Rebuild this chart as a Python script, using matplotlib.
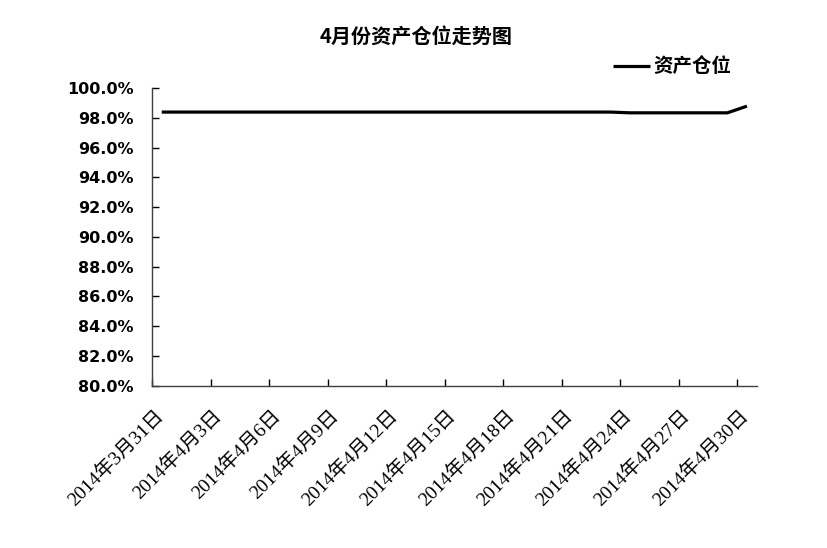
import matplotlib.pyplot as plt
from matplotlib.ticker import FuncFormatter

# calendar days 2014-03-31 .. 2014-04-30
dates = ['2014年3月31日'] + ['2014年4月%d日' % d for d in range(1, 31)]
position = [98.40, 98.40, 98.40, 98.40, 98.40, 98.40, 98.40, 98.40,
            98.40, 98.40, 98.40, 98.40, 98.40, 98.40, 98.40, 98.40,
            98.40, 98.40, 98.40, 98.40, 98.40, 98.40, 98.40, 98.40,
            98.35, 98.35, 98.35, 98.35, 98.35, 98.35, 98.80]
series_name = '资产仓位'
title = '4月份资产仓位走势图'

cjk = ['Noto Sans CJK SC', 'DejaVu Sans']
serif = ['Liberation Serif', 'Noto Sans CJK SC']


def main():
    fig = plt.figure(figsize=(8.27, 5.48), dpi=100)
    ax = fig.add_axes([152 / 827, 1 - 385.5 / 548, 604.7 / 827, 297.2 / 548])

    idx = list(range(len(dates)))
    ax.plot(idx, position, color='black', lw=2.3, label=series_name,
            solid_capstyle='butt')

    ax.set_xlim(-0.5, len(dates) - 0.5)
    ax.set_ylim(80, 100)
    ax.set_yticks(range(80, 101, 2))
    ax.yaxis.set_major_formatter(FuncFormatter(lambda v, p: '%.1f%%' % v))
    for lab in ax.get_yticklabels():
        lab.set_family(['DejaVu Sans'])
        lab.set_fontweight('bold')
        lab.set_fontsize(11.5)

    # tick marks on category boundaries, labels near category centres
    ax.set_xticks([i - 0.5 for i in range(0, len(dates), 3)])
    ax.set_xticklabels([])
    ax.set_xticks([i - 0.4 for i in idx[::3]], minor=True)
    ax.set_xticklabels(dates[::3], minor=True, rotation=45, ha='right',
                       va='top', rotation_mode='anchor',
                       family=serif, fontsize=14)
    ax.tick_params(axis='x', which='minor', length=0, pad=15)
    ax.tick_params(axis='both', which='major', direction='in', length=5,
                   width=1, color='black')
    ax.tick_params(axis='y', pad=13)

    for s in ['top', 'right']:
        ax.spines[s].set_visible(False)
    for s in ['left', 'bottom']:
        ax.spines[s].set_color('#404040')
        ax.spines[s].set_linewidth(1)

    fig.text(416 / 827, 1 - 36 / 548, title, ha='center', va='center',
             family=cjk, fontsize=14.5, fontweight='bold')

    ax.legend(loc='center left', bbox_to_anchor=(613 / 827, 1 - 67 / 548),
              bbox_transform=fig.transFigure, frameon=False,
              borderpad=0, borderaxespad=0,
              handlelength=1.9, handletextpad=0.15,
              prop={'family': cjk, 'size': 14, 'weight': 'bold'})

    fig.savefig('out.png', dpi=100)


if __name__ == '__main__':
    main()
